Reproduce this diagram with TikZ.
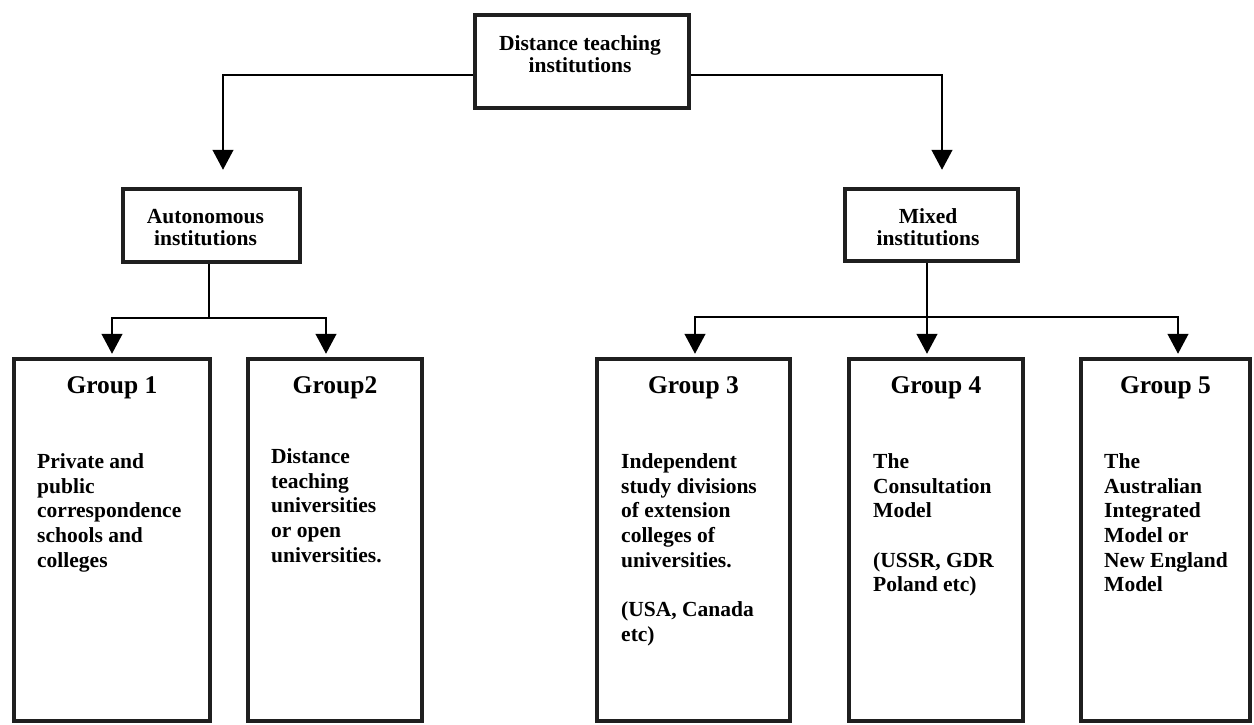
\documentclass[tikz,border=0pt]{standalone}
\usepackage{fontspec}
\setmainfont{Liberation Serif}
\usetikzlibrary{arrows.meta}
\begin{document}
\begin{tikzpicture}[x=1pt, y=-1pt,
  box/.style={draw=black!88, line width=4.5pt, inner sep=0pt, fill=white},
  conn/.style={draw=black, line width=1.3pt},
  arr/.style={conn, -{Triangle[width=21pt, length=20pt]}},
  lbl/.style={inner sep=0pt, font=\fontsize{21.5}{22}\selectfont\bfseries, align=center, anchor=north},
  head/.style={inner sep=0pt, font=\fontsize{25.5}{28}\selectfont\bfseries, anchor=base},
  body/.style={inner sep=0pt, font=\fontsize{21.5}{24.7}\selectfont\bfseries, align=left, anchor=north west}]
\useasboundingbox (0,0) rectangle (1254,725);
\fill[white] (0,0) rectangle (1254,725);

% top level
\node[box, minimum width=214pt, minimum height=93pt] (top) at (582,61.5) {};
\node[lbl] (toptxt) at (580,34.6) {\strut Distance teaching\\institutions};

% second level
\node[box, minimum width=177pt, minimum height=73pt] (auto) at (211.5,225.5) {};
\node[lbl] (autotxt) at (205.5,207.6) {\strut Autonomous\\institutions};
\node[box, minimum width=173pt, minimum height=72pt] (mixed) at (931.5,225) {};
\node[lbl] (mixedtxt) at (928,207.6) {\strut Mixed\\institutions};

% group boxes
\node[box, minimum width=196pt, minimum height=362pt] (g1) at (112,540) {};
\node[box, minimum width=174pt, minimum height=362pt] (g2) at (335,540) {};
\node[box, minimum width=193pt, minimum height=362pt] (g3) at (693.5,540) {};
\node[box, minimum width=174pt, minimum height=362pt] (g4) at (936,540) {};
\node[box, minimum width=169pt, minimum height=362pt] (g5) at (1165.5,540) {};

\node[head] (h1) at (112,393) {Group 1};
\node[head] (h2) at (335,393) {Group2};
\node[head] (h3) at (693.5,393) {Group 3};
\node[head] (h4) at (936,393) {Group 4};
\node[head] (h5) at (1165.5,393) {Group 5};

\node[body] (t1) at (37,451) {\strut Private and\\public\\correspondence\\schools and\\colleges};
\node[body] (t2) at (271,446) {\strut Distance\\teaching\\universities\\or open\\universities.};
\node[body] (t3) at (621,451) {\strut Independent\\study divisions\\of extension\\colleges of\\universities.\\[24.7pt](USA, Canada\\etc)};
\node[body] (t4) at (873,451) {\strut The\\Consultation\\Model\\[24.7pt](USSR, GDR\\Poland etc)};
\node[body] (t5) at (1104,451) {\strut The\\Australian\\Integrated\\Model or\\New England\\Model};

% connectors
\draw[arr, shorten >=17pt] ([yshift=-13.5pt]top.west) -| ([xshift=11.5pt]auto.north);
\draw[arr, shorten >=17pt] ([yshift=-13.5pt]top.east) -| ([xshift=10.5pt]mixed.north);

\coordinate (abus) at (209,318);
\draw[conn] ([xshift=-2.5pt]auto.south) -- (abus);
\draw[arr, shorten >=3pt] (abus) -| (g1.north);
\draw[arr, shorten >=3pt] (abus) -| ([xshift=-9pt]g2.north);

\coordinate (mbus) at (927,317);
\draw[conn] ([xshift=-4.5pt]mixed.south) -- (mbus);
\draw[arr, shorten >=3pt] (mbus) -| ([xshift=1.5pt]g3.north);
\draw[arr, shorten >=3pt] (mbus) -- ([xshift=-9pt]g4.north);
\draw[arr, shorten >=3pt] (mbus) -| ([xshift=12.5pt]g5.north);
\end{tikzpicture}
\end{document}
